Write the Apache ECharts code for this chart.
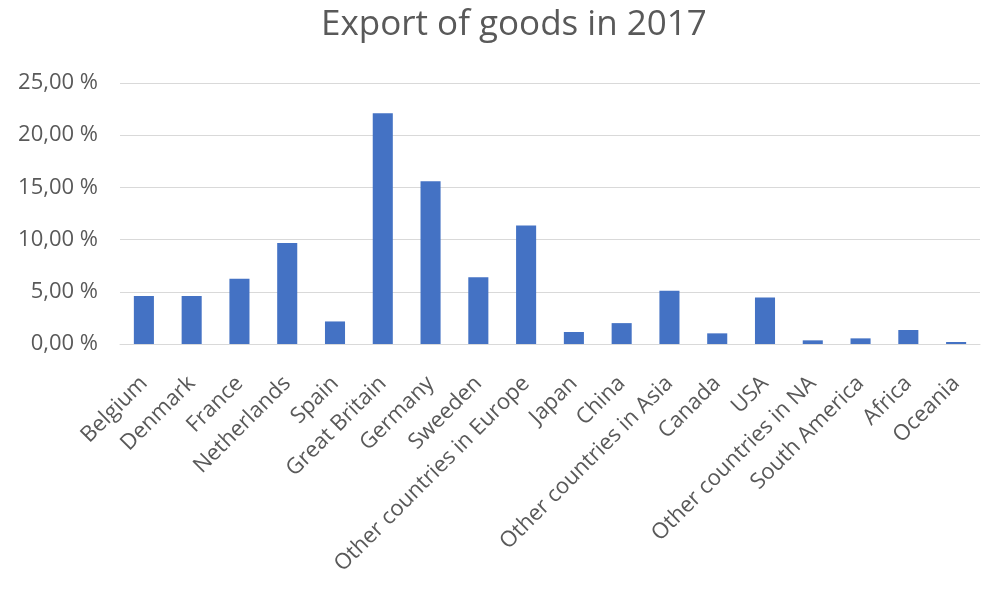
<!DOCTYPE html>
<html>
<head>
<meta charset="utf-8">
<script src="https://cdn.jsdelivr.net/npm/echarts@6/dist/echarts.min.js"></script>
<style>
  html, body { margin: 0; padding: 0; background: #fff; }
  #chart { width: 982px; height: 589px; }
</style>
</head>
<body>
<div id="chart"></div>
<script>
// categories on the x axis
var regions = ['Belgium', 'Denmark', 'France', 'Netherlands', 'Spain', 'Great Britain',
  'Germany', 'Sweeden', 'Other countries in Europe', 'Japan', 'China',
  'Other countries in Asia', 'Canada', 'USA', 'Other countries in NA',
  'South America', 'Africa', 'Oceania'];

// share of exports, percent
var exportShare = [4.6, 4.6, 6.24, 9.68, 2.16, 22.1, 15.58, 6.4, 11.34, 1.15, 2.0,
  5.1, 1.02, 4.46, 0.35, 0.54, 1.34, 0.19];

var textColor = '#595959';
var fontName = 'Open Sans';

var myChart = echarts.init(document.getElementById('chart'));

var option = {
  animation: false,
  title: {
    text: 'Export of goods in 2017',
    left: 316,
    top: 3,
    textStyle: { fontFamily: fontName, fontSize: 35, fontWeight: 'normal', color: textColor }
  },
  grid: { left: 120, right: 2, top: 83, bottom: 245 },
  xAxis: {
    type: 'category',
    data: regions,
    axisLine: { lineStyle: { color: '#d9d9d9', width: 1 } },
    axisTick: { show: false },
    axisLabel: {
      interval: 0,
      rotate: 45,
      margin: 36,
      color: textColor,
      fontFamily: fontName,
      fontSize: 22
    }
  },
  yAxis: {
    type: 'value',
    min: 0,
    max: 25,
    interval: 5,
    axisLine: { show: false },
    axisTick: { show: false },
    splitLine: { lineStyle: { color: '#d9d9d9', width: 1 } },
    axisLabel: {
      margin: 22,
      color: textColor,
      fontFamily: fontName,
      fontSize: 22,
      formatter: function (v) {
        return v.toFixed(2).replace('.', ',') + ' %';
      }
    }
  },
  series: [{
    type: 'bar',
    data: exportShare,
    barWidth: '42%',
    itemStyle: { color: '#4472c4' }
  }]
};

myChart.setOption(option);
</script>
</body>
</html>
